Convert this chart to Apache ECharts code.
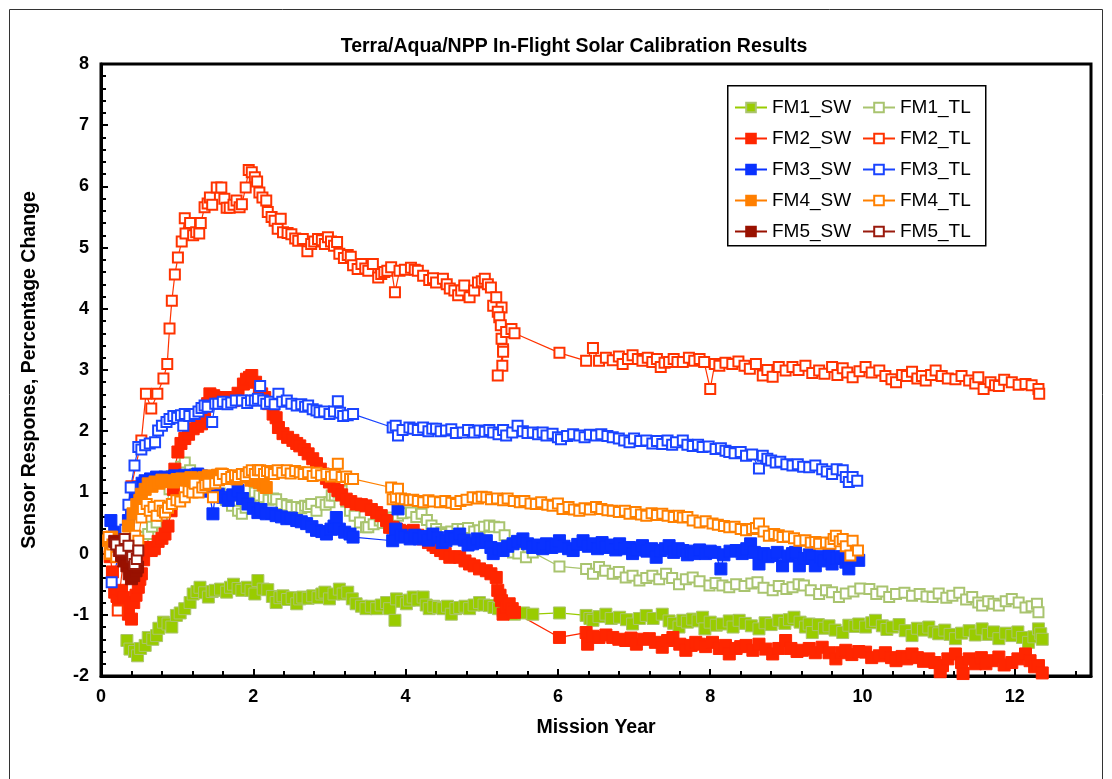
<!DOCTYPE html>
<html>
<head>
<meta charset="utf-8">
<title>Terra/Aqua/NPP In-Flight Solar Calibration Results</title>
<script src="https://cdn.jsdelivr.net/npm/echarts@6/dist/echarts.min.js"></script>
<style>
  html, body { margin: 0; padding: 0; background: #fff; }
  #chart { width: 1112px; height: 779px; }
</style>
</head>
<body>
<div id="chart"></div>
<script>
// values, [mission year, % change]
const fm1Sw = [[0.34,-1.42],[0.38,-1.56],[0.44,-1.60],[0.48,-1.67],[0.52,-1.55],[0.58,-1.50],[0.62,-1.37],[0.68,-1.40],[0.73,-1.34],[0.76,-1.22],[0.82,-1.12],[0.88,-1.15],[0.93,-1.20],[0.99,-1.01],[1.04,-0.97],[1.10,-0.90],[1.17,-0.80],[1.21,-0.66],[1.26,-0.62],[1.30,-0.55],[1.36,-0.64],[1.41,-0.71],[1.46,-0.62],[1.50,-0.60],[1.57,-0.58],[1.65,-0.63],[1.70,-0.55],[1.74,-0.50],[1.80,-0.57],[1.85,-0.60],[1.92,-0.55],[1.97,-0.60],[2.02,-0.66],[2.06,-0.44],[2.13,-0.58],[2.19,-0.59],[2.25,-0.70],[2.30,-0.80],[2.35,-0.72],[2.39,-0.69],[2.45,-0.75],[2.51,-0.72],[2.57,-0.82],[2.61,-0.74],[2.65,-0.71],[2.72,-0.73],[2.78,-0.69],[2.85,-0.72],[2.90,-0.66],[2.94,-0.63],[3.00,-0.74],[3.06,-0.66],[3.13,-0.58],[3.18,-0.66],[3.24,-0.63],[3.30,-0.74],[3.35,-0.82],[3.42,-0.86],[3.48,-0.90],[3.55,-0.86],[3.62,-0.90],[3.68,-0.84],[3.75,-0.80],[3.79,-0.90],[3.86,-1.09],[3.88,-0.74],[3.95,-0.78],[4.01,-0.82],[4.05,-0.76],[4.10,-0.71],[4.16,-0.76],[4.23,-0.71],[4.27,-0.84],[4.31,-0.90],[4.37,-0.86],[4.43,-0.88],[4.49,-0.90],[4.55,-0.86],[4.60,-0.99],[4.66,-0.90],[4.71,-0.88],[4.78,-0.86],[4.84,-0.90],[4.90,-0.84],[4.97,-0.80],[5.03,-0.84],[5.10,-0.85],[5.16,-0.88],[5.22,-0.90],[5.28,-0.93],[5.36,-0.95],[5.43,-0.99],[5.55,-0.97],[5.67,-0.99],[6.02,-0.97],[6.37,-1.01],[6.42,-1.06],[6.46,-1.09],[6.54,-1.03],[6.63,-0.99],[6.70,-1.06],[6.81,-1.04],[6.90,-1.08],[6.98,-1.15],[7.07,-1.06],[7.16,-1.01],[7.25,-1.06],[7.37,-0.99],[7.46,-1.10],[7.52,-1.14],[7.59,-1.20],[7.64,-1.09],[7.70,-1.12],[7.77,-1.07],[7.84,-1.10],[7.90,-1.04],[7.93,-1.23],[8.00,-1.12],[8.08,-1.17],[8.16,-1.15],[8.25,-1.10],[8.30,-1.20],[8.38,-1.09],[8.46,-1.14],[8.54,-1.18],[8.64,-1.23],[8.72,-1.13],[8.80,-1.16],[8.90,-1.09],[8.98,-1.14],[9.04,-1.08],[9.10,-1.04],[9.18,-1.12],[9.25,-1.20],[9.30,-1.15],[9.34,-1.29],[9.42,-1.16],[9.50,-1.22],[9.56,-1.18],[9.64,-1.25],[9.74,-1.29],[9.82,-1.17],[9.90,-1.19],[9.95,-1.15],[10.04,-1.20],[10.12,-1.13],[10.17,-1.09],[10.26,-1.18],[10.32,-1.24],[10.39,-1.20],[10.48,-1.16],[10.56,-1.26],[10.65,-1.34],[10.72,-1.22],[10.80,-1.25],[10.87,-1.20],[10.94,-1.28],[11.00,-1.31],[11.08,-1.25],[11.15,-1.32],[11.22,-1.39],[11.30,-1.30],[11.40,-1.26],[11.48,-1.33],[11.57,-1.23],[11.65,-1.32],[11.72,-1.28],[11.79,-1.39],[11.88,-1.30],[11.96,-1.34],[12.04,-1.28],[12.10,-1.37],[12.18,-1.45],[12.25,-1.36],[12.31,-1.23],[12.34,-1.31],[12.36,-1.40]];

const fm1Tl = [[0.45,0.10],[0.50,0.20],[0.55,0.27],[0.62,0.32],[0.67,0.44],[0.73,0.51],[0.80,0.62],[0.86,0.76],[0.90,1.05],[0.93,1.27],[1.00,1.35],[1.05,1.42],[1.10,1.49],[1.17,1.36],[1.24,1.30],[1.32,1.22],[1.40,1.15],[1.48,1.08],[1.56,0.98],[1.64,0.88],[1.72,0.78],[1.80,0.70],[1.85,0.65],[1.90,0.75],[1.96,0.90],[2.02,1.00],[2.08,0.95],[2.14,0.92],[2.20,0.88],[2.26,0.90],[2.30,0.89],[2.37,0.81],[2.44,0.79],[2.50,0.76],[2.57,0.76],[2.63,0.74],[2.68,0.78],[2.72,0.76],[2.76,0.81],[2.83,0.70],[2.89,0.84],[2.95,0.80],[3.00,0.84],[3.03,0.95],[3.07,0.95],[3.12,1.00],[3.16,1.03],[3.22,0.85],[3.27,0.70],[3.33,0.62],[3.40,0.51],[3.48,0.43],[3.51,0.43],[3.58,0.48],[3.66,0.54],[3.70,0.50],[3.76,0.56],[3.83,0.59],[3.90,0.62],[3.96,0.66],[4.07,0.67],[4.14,0.60],[4.21,0.65],[4.28,0.55],[4.34,0.46],[4.40,0.40],[4.47,0.35],[4.53,0.32],[4.60,0.36],[4.68,0.40],[4.75,0.40],[4.82,0.42],[4.90,0.36],[4.97,0.38],[5.03,0.44],[5.10,0.46],[5.16,0.44],[5.23,0.43],[5.30,0.30],[5.36,0.12],[5.41,0.02],[5.48,0.00],[5.58,-0.06],[5.67,0.02],[6.02,-0.21],[6.37,-0.25],[6.46,-0.33],[6.54,-0.22],[6.62,-0.28],[6.72,-0.33],[6.80,-0.30],[6.89,-0.39],[6.98,-0.36],[7.07,-0.44],[7.16,-0.40],[7.24,-0.36],[7.33,-0.42],[7.42,-0.33],[7.50,-0.40],[7.59,-0.50],[7.68,-0.42],[7.77,-0.39],[7.86,-0.45],[7.99,-0.52],[8.07,-0.48],[8.16,-0.52],[8.25,-0.55],[8.34,-0.50],[8.45,-0.53],[8.54,-0.49],[8.62,-0.47],[8.70,-0.56],[8.82,-0.60],[8.90,-0.53],[9.00,-0.58],[9.08,-0.55],[9.16,-0.50],[9.23,-0.52],[9.32,-0.60],[9.43,-0.66],[9.52,-0.60],[9.60,-0.63],[9.69,-0.71],[9.78,-0.65],[9.88,-0.62],[9.97,-0.57],[10.09,-0.58],[10.18,-0.66],[10.26,-0.62],[10.35,-0.71],[10.44,-0.66],[10.55,-0.64],[10.65,-0.69],[10.75,-0.66],[10.84,-0.70],[10.92,-0.71],[11.00,-0.65],[11.10,-0.72],[11.18,-0.69],[11.27,-0.64],[11.36,-0.75],[11.44,-0.71],[11.52,-0.80],[11.57,-0.85],[11.65,-0.78],[11.72,-0.82],[11.79,-0.85],[11.88,-0.78],[11.96,-0.74],[12.05,-0.80],[12.14,-0.88],[12.22,-0.86],[12.29,-0.82],[12.31,-0.96]];

const fm2Sw = [[0.12,-0.05],[0.15,-0.30],[0.18,-0.63],[0.21,-0.70],[0.23,-0.77],[0.27,-0.60],[0.30,-0.72],[0.33,-0.88],[0.36,-0.99],[0.40,-1.07],[0.43,-0.80],[0.46,-0.68],[0.49,-0.55],[0.51,-0.42],[0.53,-0.33],[0.56,-0.10],[0.59,0.05],[0.62,0.10],[0.66,0.05],[0.70,0.08],[0.75,0.20],[0.80,0.25],[0.84,0.32],[0.88,0.45],[0.92,0.70],[0.95,1.05],[0.97,1.38],[1.01,1.66],[1.05,1.80],[1.10,1.88],[1.15,1.95],[1.21,2.04],[1.27,2.08],[1.32,2.12],[1.36,2.25],[1.40,2.45],[1.43,2.61],[1.48,2.58],[1.53,2.55],[1.58,2.50],[1.64,2.55],[1.70,2.52],[1.74,2.50],[1.80,2.62],[1.87,2.77],[1.91,2.85],[1.95,2.88],[1.98,2.91],[2.03,2.80],[2.08,2.68],[2.11,2.61],[2.15,2.55],[2.20,2.45],[2.26,2.28],[2.30,2.22],[2.33,2.06],[2.39,1.96],[2.45,1.90],[2.52,1.85],[2.57,1.80],[2.61,1.76],[2.67,1.70],[2.72,1.63],[2.78,1.55],[2.83,1.47],[2.88,1.38],[2.92,1.30],[2.96,1.23],[3.00,1.17],[3.06,1.10],[3.11,1.03],[3.16,0.96],[3.22,0.89],[3.28,0.85],[3.35,0.81],[3.42,0.80],[3.48,0.78],[3.55,0.72],[3.62,0.67],[3.68,0.62],[3.75,0.54],[3.79,0.43],[3.83,0.43],[3.88,0.40],[3.92,0.38],[4.00,0.36],[4.10,0.38],[4.16,0.30],[4.23,0.24],[4.30,0.18],[4.36,0.14],[4.40,0.10],[4.46,0.05],[4.52,0.00],[4.58,-0.06],[4.65,-0.05],[4.71,-0.06],[4.78,-0.12],[4.84,-0.17],[4.90,-0.20],[4.97,-0.25],[5.06,-0.28],[5.12,-0.33],[5.19,-0.39],[5.21,-0.60],[5.24,-0.68],[5.26,-0.77],[5.28,-0.99],[5.32,-0.88],[5.36,-0.82],[5.40,-0.90],[5.43,-0.96],[6.02,-1.37],[6.37,-1.29],[6.39,-1.48],[6.46,-1.35],[6.54,-1.37],[6.63,-1.33],[6.72,-1.37],[6.80,-1.40],[6.89,-1.42],[6.96,-1.38],[7.03,-1.48],[7.12,-1.40],[7.20,-1.39],[7.28,-1.45],[7.37,-1.53],[7.44,-1.42],[7.51,-1.37],[7.60,-1.48],[7.68,-1.58],[7.75,-1.50],[7.81,-1.45],[7.86,-1.48],[7.94,-1.52],[8.03,-1.45],[8.12,-1.55],[8.20,-1.50],[8.25,-1.64],[8.34,-1.55],[8.40,-1.52],[8.47,-1.50],[8.56,-1.58],[8.64,-1.48],[8.73,-1.56],[8.82,-1.64],[8.90,-1.55],[8.99,-1.42],[9.06,-1.55],[9.14,-1.60],[9.21,-1.58],[9.30,-1.55],[9.38,-1.62],[9.47,-1.53],[9.56,-1.62],[9.65,-1.72],[9.72,-1.62],[9.78,-1.58],[9.86,-1.65],[9.95,-1.60],[10.04,-1.61],[10.12,-1.70],[10.22,-1.67],[10.30,-1.62],[10.38,-1.70],[10.44,-1.75],[10.52,-1.68],[10.58,-1.72],[10.65,-1.64],[10.72,-1.70],[10.80,-1.76],[10.87,-1.72],[10.95,-1.78],[11.02,-1.93],[11.05,-1.83],[11.12,-1.72],[11.22,-1.64],[11.30,-1.78],[11.32,-1.96],[11.40,-1.72],[11.48,-1.80],[11.56,-1.70],[11.62,-1.80],[11.70,-1.75],[11.79,-1.69],[11.86,-1.82],[11.96,-1.78],[12.04,-1.72],[12.14,-1.64],[12.20,-1.75],[12.26,-1.85],[12.31,-1.83],[12.36,-1.95]];

const fm2Tl = [[0.22,-0.93],[0.40,1.10],[0.53,1.85],[0.59,2.61],[0.66,2.37],[0.74,2.61],[0.82,2.86],[0.87,3.10],[0.90,3.68],[0.93,4.13],[0.97,4.56],[1.01,4.84],[1.06,5.10],[1.10,5.48],[1.11,5.23],[1.17,5.40],[1.21,5.20],[1.25,5.25],[1.29,5.23],[1.31,5.40],[1.36,5.66],[1.40,5.72],[1.43,5.82],[1.46,5.70],[1.52,5.98],[1.58,5.98],[1.62,5.80],[1.65,5.65],[1.69,5.65],[1.74,5.70],[1.78,5.77],[1.82,5.66],[1.85,5.71],[1.90,5.98],[1.94,6.27],[1.98,6.23],[2.02,6.15],[2.05,6.08],[2.08,5.90],[2.12,5.82],[2.17,5.77],[2.19,5.58],[2.24,5.50],[2.28,5.44],[2.32,5.31],[2.36,5.47],[2.39,5.25],[2.45,5.24],[2.50,5.22],[2.55,5.15],[2.59,5.11],[2.65,5.14],[2.71,4.94],[2.76,5.06],[2.80,5.10],[2.85,5.14],[2.90,5.12],[2.94,5.06],[2.98,5.17],[3.02,5.10],[3.06,5.03],[3.10,5.09],[3.13,4.90],[3.19,4.83],[3.24,4.88],[3.28,4.85],[3.31,4.71],[3.37,4.65],[3.42,4.73],[3.47,4.66],[3.51,4.62],[3.57,4.73],[3.64,4.51],[3.68,4.57],[3.72,4.60],[3.76,4.62],[3.81,4.68],[3.86,4.27],[3.92,4.62],[3.99,4.64],[4.07,4.67],[4.12,4.64],[4.16,4.62],[4.23,4.54],[4.31,4.47],[4.36,4.50],[4.40,4.43],[4.49,4.49],[4.54,4.40],[4.58,4.33],[4.64,4.30],[4.69,4.22],[4.73,4.30],[4.77,4.38],[4.84,4.19],[4.90,4.30],[4.95,4.43],[5.00,4.45],[5.04,4.49],[5.08,4.40],[5.12,4.35],[5.15,4.05],[5.19,4.19],[5.26,4.02],[5.21,3.95],[5.23,3.86],[5.25,3.73],[5.26,3.51],[5.28,3.34],[5.27,3.07],[5.21,2.91],[5.28,3.30],[5.32,3.62],[5.39,3.67],[5.43,3.60],[6.02,3.28],[6.37,3.15],[6.46,3.36],[6.54,3.15],[6.63,3.20],[6.72,3.16],[6.80,3.22],[6.85,3.10],[6.92,3.18],[6.98,3.24],[7.05,3.18],[7.11,3.15],[7.18,3.20],[7.24,3.13],[7.30,3.18],[7.35,3.05],[7.40,3.12],[7.46,3.13],[7.52,3.18],[7.57,3.13],[7.64,3.13],[7.72,3.20],[7.79,3.15],[7.86,3.18],[7.92,3.13],[8.00,2.69],[8.06,3.10],[8.12,3.07],[8.20,3.12],[8.29,3.10],[8.37,3.14],[8.45,3.07],[8.52,3.02],[8.60,3.10],[8.69,2.91],[8.75,3.00],[8.82,2.89],[8.90,3.05],[8.99,2.99],[9.08,3.05],[9.16,3.00],[9.25,3.07],[9.34,2.95],[9.43,2.99],[9.50,2.94],[9.60,3.05],[9.67,2.92],[9.74,3.03],[9.80,2.96],[9.87,2.88],[9.96,2.98],[10.04,3.05],[10.12,2.96],[10.22,2.99],[10.30,2.90],[10.38,2.85],[10.44,2.80],[10.52,2.92],[10.58,2.90],[10.65,2.97],[10.72,2.86],[10.78,2.90],[10.83,2.83],[10.90,2.92],[10.96,2.99],[11.04,2.90],[11.12,2.86],[11.22,2.85],[11.30,2.90],[11.40,2.83],[11.48,2.78],[11.52,2.88],[11.59,2.69],[11.68,2.80],[11.74,2.75],[11.79,2.74],[11.86,2.84],[11.96,2.80],[12.05,2.76],[12.14,2.77],[12.22,2.75],[12.31,2.69],[12.32,2.61]];

const fm3Sw = [[0.13,0.54],[0.18,0.35],[0.24,0.20],[0.30,0.30],[0.36,0.54],[0.40,0.70],[0.45,0.92],[0.49,1.08],[0.54,1.15],[0.58,1.19],[0.65,1.22],[0.73,1.25],[0.80,1.22],[0.84,1.25],[0.90,1.20],[0.97,1.27],[1.05,1.22],[1.10,1.28],[1.15,1.25],[1.22,1.22],[1.27,1.30],[1.32,1.27],[1.38,1.10],[1.42,1.02],[1.47,0.65],[1.50,0.95],[1.54,0.97],[1.60,0.92],[1.67,0.87],[1.73,0.96],[1.80,1.03],[1.86,0.90],[1.93,0.81],[2.00,0.74],[2.06,0.67],[2.10,0.72],[2.17,0.65],[2.24,0.66],[2.30,0.62],[2.37,0.60],[2.44,0.57],[2.50,0.58],[2.57,0.54],[2.63,0.52],[2.70,0.49],[2.77,0.44],[2.83,0.38],[2.90,0.36],[2.96,0.32],[3.02,0.40],[3.06,0.45],[3.09,0.59],[3.13,0.40],[3.20,0.35],[3.27,0.32],[3.31,0.27],[3.83,0.21],[3.87,0.40],[3.90,0.73],[3.94,0.30],[3.99,0.27],[4.06,0.24],[4.12,0.30],[4.18,0.24],[4.24,0.28],[4.30,0.22],[4.36,0.32],[4.42,0.26],[4.48,0.18],[4.53,0.21],[4.59,0.28],[4.65,0.24],[4.71,0.32],[4.77,0.22],[4.82,0.14],[4.88,0.16],[4.94,0.24],[5.00,0.18],[5.06,0.21],[5.12,0.10],[5.15,0.00],[5.22,0.08],[5.28,0.05],[5.34,0.12],[5.41,0.16],[5.47,0.20],[5.54,0.24],[5.60,0.16],[5.67,0.10],[5.74,0.14],[5.80,0.08],[5.85,0.16],[5.92,0.10],[5.97,0.14],[6.02,0.21],[6.08,0.12],[6.14,0.08],[6.20,0.05],[6.26,0.15],[6.33,0.21],[6.40,0.12],[6.46,0.16],[6.52,0.08],[6.58,0.18],[6.63,0.10],[6.70,0.14],[6.76,0.06],[6.81,0.16],[6.88,0.08],[6.94,0.10],[6.98,0.00],[7.04,0.06],[7.11,0.13],[7.17,0.04],[7.23,0.08],[7.29,-0.06],[7.35,0.05],[7.41,0.08],[7.46,0.13],[7.52,0.02],[7.58,0.08],[7.64,0.05],[7.70,-0.02],[7.75,0.04],[7.79,0.00],[7.86,0.06],[7.94,0.00],[8.00,0.04],[8.06,0.02],[8.14,-0.25],[8.18,-0.02],[8.26,0.04],[8.34,0.05],[8.42,0.00],[8.48,0.08],[8.53,0.16],[8.58,0.02],[8.64,-0.17],[8.70,0.00],[8.76,-0.05],[8.82,-0.03],[8.88,0.02],[8.95,-0.20],[9.02,-0.04],[9.08,0.00],[9.12,0.02],[9.17,-0.20],[9.24,-0.08],[9.30,-0.02],[9.34,-0.06],[9.38,-0.20],[9.45,-0.05],[9.50,-0.12],[9.56,0.00],[9.60,-0.17],[9.66,-0.08],[9.72,-0.05],[9.78,-0.14],[9.82,-0.25],[9.88,-0.08],[9.95,-0.11]];

const fm3Tl = [[0.14,-0.47],[0.32,0.39],[0.36,0.80],[0.39,1.08],[0.44,1.44],[0.49,1.74],[0.53,1.70],[0.58,1.77],[0.64,1.80],[0.71,1.82],[0.75,2.01],[0.80,2.09],[0.86,2.15],[0.90,2.20],[0.95,2.25],[1.00,2.22],[1.05,2.26],[1.08,2.09],[1.10,2.28],[1.16,2.25],[1.23,2.28],[1.28,2.32],[1.32,2.38],[1.36,2.42],[1.40,2.40],[1.46,2.15],[1.50,2.45],[1.54,2.45],[1.60,2.48],[1.66,2.44],[1.71,2.47],[1.77,2.50],[1.85,2.50],[1.92,2.46],[1.97,2.50],[2.02,2.50],[2.06,2.53],[2.09,2.74],[2.13,2.50],[2.17,2.45],[2.22,2.48],[2.28,2.44],[2.33,2.61],[2.38,2.48],[2.44,2.50],[2.50,2.45],[2.57,2.42],[2.63,2.44],[2.68,2.40],[2.72,2.42],[2.78,2.36],[2.83,2.34],[2.87,2.31],[2.93,2.32],[3.00,2.28],[3.06,2.32],[3.11,2.49],[3.14,2.30],[3.18,2.25],[3.24,2.26],[3.31,2.28],[3.83,2.06],[3.87,2.09],[3.90,1.93],[3.96,2.02],[4.05,2.06],[4.10,2.04],[4.16,2.02],[4.23,2.06],[4.30,2.00],[4.35,2.04],[4.40,2.04],[4.46,2.00],[4.53,2.01],[4.60,2.03],[4.66,1.97],[4.75,1.98],[4.82,2.02],[4.90,1.98],[4.97,2.01],[5.04,1.99],[5.10,2.02],[5.15,1.98],[5.22,1.95],[5.28,2.02],[5.32,1.93],[5.40,1.98],[5.47,2.09],[5.54,2.00],[5.60,1.97],[5.67,1.98],[5.74,1.95],[5.80,1.98],[5.85,1.93],[5.93,1.96],[6.00,1.90],[6.04,1.87],[6.12,1.92],[6.20,1.95],[6.28,1.93],[6.35,1.90],[6.42,1.94],[6.50,1.93],[6.57,1.95],[6.65,1.92],[6.72,1.90],[6.80,1.88],[6.87,1.85],[6.94,1.82],[7.00,1.88],[7.08,1.84],[7.16,1.85],[7.24,1.80],[7.30,1.84],[7.37,1.79],[7.44,1.85],[7.50,1.78],[7.55,1.82],[7.64,1.85],[7.70,1.78],[7.77,1.76],[7.84,1.78],[7.90,1.74],[7.98,1.75],[8.07,1.71],[8.14,1.72],[8.20,1.68],[8.25,1.66],[8.32,1.64],[8.40,1.66],[8.47,1.60],[8.55,1.62],[8.64,1.39],[8.69,1.60],[8.75,1.55],[8.80,1.52],[8.86,1.49],[8.92,1.50],[9.00,1.46],[9.08,1.44],[9.15,1.46],[9.22,1.42],[9.30,1.41],[9.38,1.44],[9.47,1.38],[9.53,1.34],[9.60,1.30],[9.66,1.38],[9.74,1.36],[9.78,1.25],[9.82,1.17],[9.87,1.25],[9.93,1.19]];

const fm4Sw = [[0.10,0.21],[0.12,0.00],[0.14,0.27],[0.18,0.10],[0.22,0.15],[0.26,0.05],[0.30,0.20],[0.36,0.45],[0.42,0.65],[0.47,0.80],[0.51,0.87],[0.53,0.97],[0.58,1.05],[0.62,1.14],[0.67,1.10],[0.71,1.17],[0.76,1.15],[0.80,1.20],[0.85,1.18],[0.90,1.19],[0.95,1.17],[1.00,1.21],[1.06,1.22],[1.12,1.20],[1.18,1.24],[1.23,1.22],[1.29,1.20],[1.35,1.24],[1.41,1.27],[1.47,1.25],[1.53,1.28],[1.58,1.30],[1.64,1.27],[1.71,1.25],[1.78,1.22],[1.85,1.27],[1.92,1.25],[1.97,1.20],[2.02,1.19],[2.08,1.16],[2.13,1.12],[2.17,1.08]];

const fm4Tl = [[0.10,0.27],[0.12,0.00],[0.15,0.15],[0.20,-0.05],[0.25,0.10],[0.30,0.05],[0.35,0.18],[0.40,0.12],[0.45,0.29],[0.49,0.21],[0.53,0.59],[0.55,0.73],[0.60,0.81],[0.64,0.70],[0.69,0.76],[0.73,0.62],[0.77,0.78],[0.81,0.70],[0.84,0.67],[0.88,0.75],[0.93,0.81],[0.99,0.87],[1.04,0.85],[1.10,0.92],[1.15,1.02],[1.20,1.00],[1.23,1.14],[1.28,1.00],[1.33,1.08],[1.37,1.12],[1.41,1.14],[1.47,0.92],[1.50,1.15],[1.55,1.20],[1.60,1.30],[1.65,1.22],[1.71,1.25],[1.76,1.28],[1.80,1.25],[1.85,1.30],[1.90,1.27],[1.94,1.33],[1.98,1.36],[2.02,1.30],[2.06,1.36],[2.09,1.36],[2.14,1.30],[2.18,1.35],[2.22,1.33],[2.27,1.30],[2.32,1.36],[2.38,1.32],[2.44,1.36],[2.49,1.31],[2.55,1.35],[2.61,1.33],[2.66,1.30],[2.72,1.33],[2.78,1.27],[2.83,1.32],[2.89,1.28],[2.96,1.30],[3.02,1.26],[3.07,1.29],[3.11,1.47],[3.16,1.25],[3.22,1.26],[3.27,1.22],[3.31,1.22],[3.81,1.08],[3.83,0.89],[3.87,0.92],[3.90,1.06],[3.94,0.90],[3.99,0.89],[4.05,0.87],[4.10,0.88],[4.16,0.86],[4.23,0.84],[4.30,0.87],[4.36,0.85],[4.45,0.84],[4.52,0.86],[4.60,0.83],[4.66,0.81],[4.72,0.86],[4.80,0.88],[4.88,0.92],[4.95,0.90],[5.00,0.93],[5.06,0.92],[5.12,0.89],[5.20,0.90],[5.28,0.87],[5.34,0.90],[5.42,0.86],[5.50,0.84],[5.56,0.86],[5.64,0.82],[5.71,0.81],[5.78,0.84],[5.86,0.80],[5.93,0.78],[6.00,0.82],[6.06,0.73],[6.14,0.76],[6.21,0.72],[6.28,0.70],[6.35,0.74],[6.42,0.72],[6.50,0.76],[6.57,0.73],[6.65,0.71],[6.72,0.70],[6.80,0.68],[6.88,0.70],[6.94,0.65],[7.02,0.68],[7.09,0.64],[7.16,0.62],[7.23,0.66],[7.30,0.63],[7.37,0.65],[7.44,0.62],[7.52,0.60],[7.59,0.62],[7.64,0.59],[7.70,0.60],[7.77,0.54],[7.86,0.51],[7.94,0.53],[8.03,0.49],[8.10,0.47],[8.18,0.45],[8.25,0.43],[8.32,0.44],[8.40,0.40],[8.47,0.38],[8.55,0.40],[8.60,0.42],[8.64,0.49],[8.70,0.36],[8.77,0.29],[8.84,0.32],[8.90,0.30],[8.95,0.27],[9.02,0.28],[9.10,0.25],[9.17,0.21],[9.25,0.22],[9.32,0.18],[9.38,0.19],[9.43,0.16],[9.52,0.18],[9.58,0.16],[9.62,0.24],[9.65,0.29],[9.70,0.20],[9.74,0.24],[9.78,0.12],[9.84,-0.03],[9.87,0.21],[9.94,0.05]];

const fm5Sw = [[0.18,0.20],[0.21,0.16],[0.24,0.05],[0.27,-0.03],[0.30,-0.12],[0.34,-0.20],[0.37,-0.33],[0.40,-0.41],[0.43,-0.36],[0.46,-0.28],[0.48,-0.22]];

const fm5Tl = [[0.20,0.15],[0.26,0.05],[0.31,0.24],[0.36,0.13],[0.41,-0.05],[0.44,-0.17],[0.47,-0.09],[0.49,0.05]];

const swNames = ['FM1_SW', 'FM2_SW', 'FM3_SW', 'FM4_SW', 'FM5_SW'];
const tlNames = ['FM1_TL', 'FM2_TL', 'FM3_TL', 'FM4_TL', 'FM5_TL'];

const chart = echarts.init(document.getElementById('chart'));
const font = 'Liberation Sans, Arial, sans-serif';

/**
 * one instrument series, filled (SW) or open (TL) squares
 */
const makeSeries = (name, data, color, filled, edge) => ({
  name,
  type: 'line',
  data,
  symbol: 'rect',
  symbolSize: filled ? 12 : 10,
  showSymbol: true,
  lineStyle: { color, width: 1.2 },
  itemStyle: {
    color: filled ? color : '#fff',
    borderColor: edge || color,
    borderWidth: filled ? 1 : 2,
  },
  emphasis: { disabled: true },
});

const series = [
  makeSeries('FM1_SW', fm1Sw, '#99cc00', true, '#abc46e'),
  makeSeries('FM1_TL', fm1Tl, '#a9c46f', false),
  makeSeries('FM2_SW', fm2Sw, '#ff2600', true),
  makeSeries('FM2_TL', fm2Tl, '#ff3300', false),
  makeSeries('FM3_SW', fm3Sw, '#0a32ff', true),
  makeSeries('FM3_TL', fm3Tl, '#1a44ff', false),
  makeSeries('FM4_SW', fm4Sw, '#ff7f00', true),
  makeSeries('FM4_TL', fm4Tl, '#ff8000', false),
  makeSeries('FM5_SW', fm5Sw, '#991100', true),
  makeSeries('FM5_TL', fm5Tl, '#991a0d', false),
];

const legendBase = {
  orient: 'vertical',
  top: 93,
  itemWidth: 32,
  itemHeight: 12,
  itemGap: 12,
  selectedMode: false,
  textStyle: { fontFamily: font, fontSize: 19, color: '#000' },
};

const axisCommon = {
  type: 'value',
  splitLine: { show: false },
  axisLine: { show: true, onZero: false, lineStyle: { color: '#000', width: 3 } },
  axisTick: { show: true, inside: true, length: 7, lineStyle: { color: '#000', width: 2 } },
  minorTick: { show: true, splitNumber: 5, length: 5, lineStyle: { color: '#000', width: 2 } },
  axisLabel: { fontFamily: font, fontSize: 18, fontWeight: 'bold', color: '#000', margin: 12 },
  nameLocation: 'middle',
  nameTextStyle: { fontFamily: font, fontSize: 19.5, fontWeight: 'bold', color: '#000' },
};

chart.setOption({
  animation: false,
  backgroundColor: '#fff',
  title: {
    text: 'Terra/Aqua/NPP In-Flight Solar Calibration Results',
    left: 569,
    top: 32,
    textAlign: 'center',
    textStyle: { fontFamily: font, fontSize: 19.5, fontWeight: 'bold', color: '#000' },
  },
  grid: {
    left: 101, right: 21, top: 64, bottom: 103,
    show: true, borderColor: '#000', borderWidth: 3,
  },
  xAxis: Object.assign({}, axisCommon, {
    min: 0, max: 13, interval: 2,
    name: 'Mission Year', nameGap: 42,
    axisLabel: Object.assign({}, axisCommon.axisLabel, { showMaxLabel: false }),
  }),
  yAxis: Object.assign({}, axisCommon, {
    min: -2, max: 8, interval: 1,
    name: 'Sensor Response, Percentage Change', nameGap: 61,
  }),
  legend: [
    Object.assign({}, legendBase, { left: 729, data: swNames }),
    Object.assign({}, legendBase, { left: 857, data: tlNames }),
  ],
  graphic: [
    {
      type: 'rect', left: 7, top: 7, z: 0, silent: true,
      shape: { width: 1093, height: 800 },
      style: { fill: 'none', stroke: '#333', lineWidth: 1 },
    },
    {
      type: 'rect', left: 727, top: 85, z: 3, silent: true,
      shape: { width: 258, height: 160 },
      style: { fill: '#fff', stroke: '#000', lineWidth: 1.5 },
    },
  ],
  series,
});
</script>
</body>
</html>
